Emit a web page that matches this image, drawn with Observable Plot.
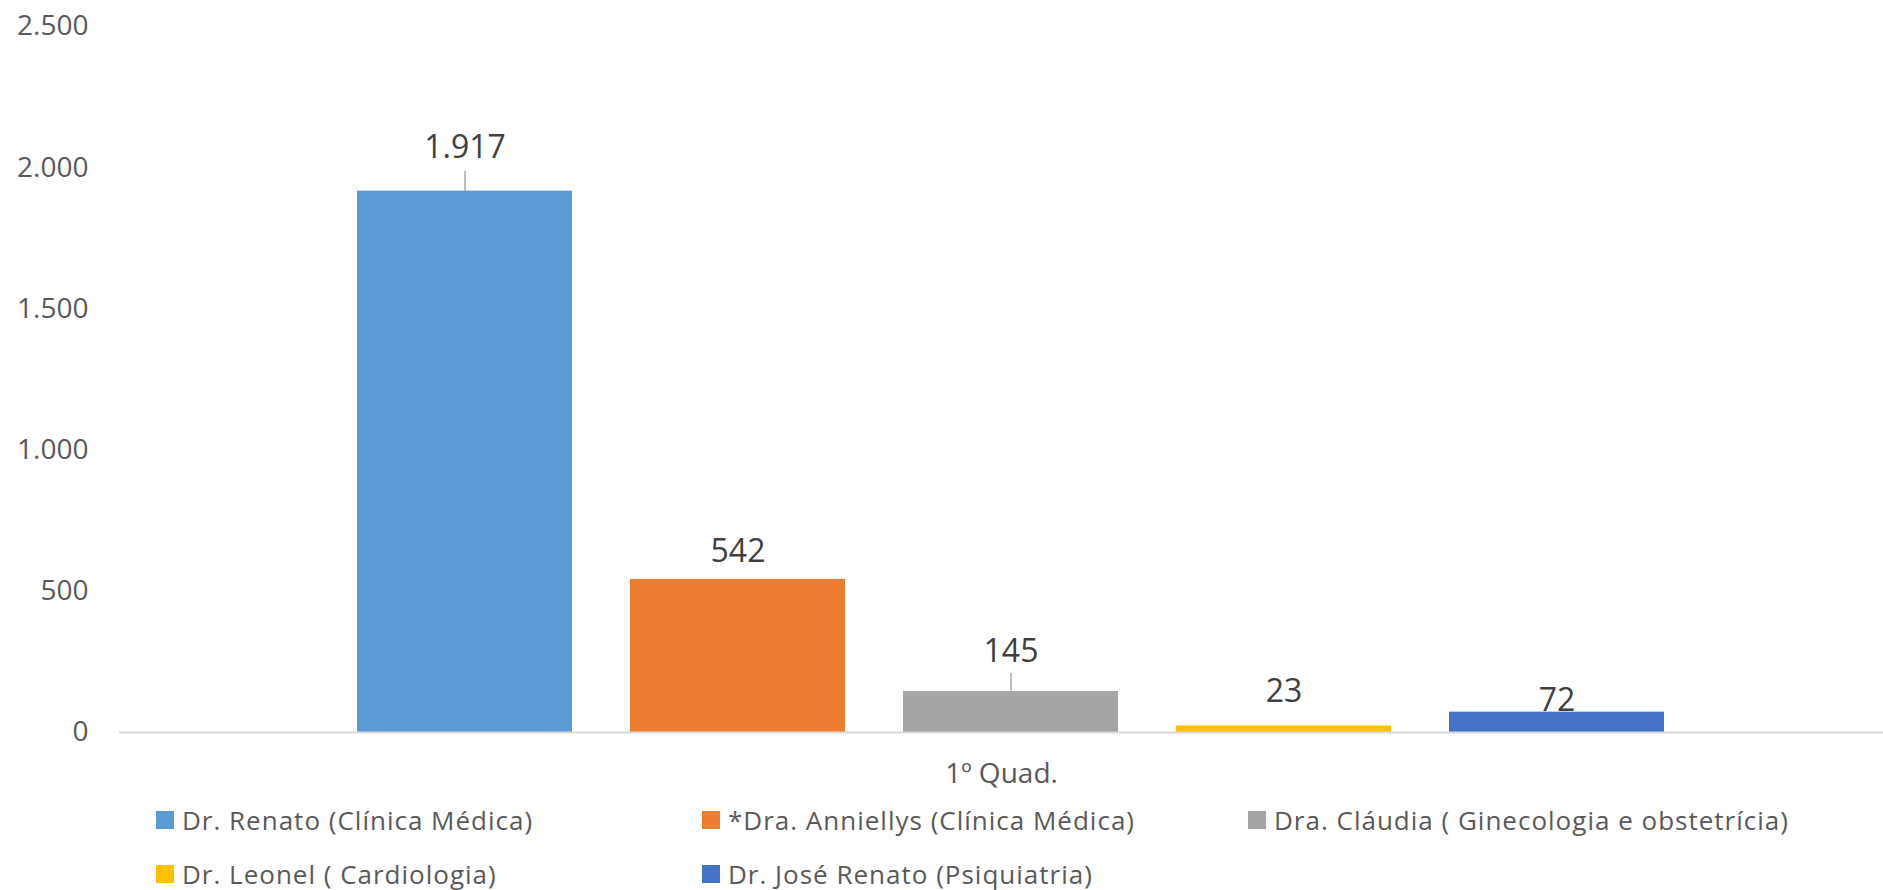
<!DOCTYPE html>
<html>
<head>
<meta charset="utf-8">
<script src="https://cdn.jsdelivr.net/npm/d3@7"></script>
<script src="https://cdn.jsdelivr.net/npm/@observablehq/plot@0.6"></script>
<style>
  html, body { margin: 0; padding: 0; background: #fff; }
  #wrap { position: relative; width: 1883px; height: 890px; font-family: "Open Sans", sans-serif; }
  #legend { position: absolute; left: 156px; top: 793px; display: grid;
            grid-template-columns: 546px 546px 546px; grid-auto-rows: 54px; }
  .item { display: flex; align-items: center; font-size: 26px; letter-spacing: 1px; color: #595959; white-space: nowrap; }
  .sw { width: 18px; height: 18px; margin-right: 8px; flex: none; }
</style>
</head>
<body>
<div id="wrap"><div id="chart"></div><div id="legend"></div></div>
<script>
// ---- data ----
const category = "1º Quad.";
const doctors = [
  "Dr. Renato (Clínica Médica)",
  "*Dra. Anniellys (Clínica Médica)",
  "Dra. Cláudia ( Ginecologia e obstetrícia)",
  "Dr. Leonel ( Cardiologia)",
  "Dr. José Renato (Psiquiatria)"
];
const values = [1917, 542, 145, 23, 72];
const colors = ["#5B9BD5", "#ED7D31", "#A5A5A5", "#FFC000", "#4472C4"];
const yTicks = [0, 500, 1000, 1500, 2000, 2500];
// label placement (pixels above bar top) and leader-line lengths
const labelDy = [-43, -28, -40, -34, -11];
const leaderLen = [20, 0, 18, 0, 0];

const locale = d3.formatLocale({decimal: ",", thousands: ".", grouping: [3], currency: ["", ""]});
const fmt = locale.format(",d");

const rows = doctors.map((d, i) => ({doctor: d, value: values[i], period: category, i}));

const labelMarks = rows.map(r => Plot.text([r], {
  fx: "period", x: "doctor", y: "value", text: d => fmt(d.value),
  dy: labelDy[r.i], lineAnchor: "middle", fontSize: 32, fill: "#404040"
}));
const leaderMarks = rows.filter(r => leaderLen[r.i] > 0).map(r => Plot.ruleX([r], {
  fx: "period", x: "doctor", y1: "value", y2: "value",
  insetTop: -leaderLen[r.i], stroke: "#A6A6A6", strokeWidth: 1.5
}));

const chart = Plot.plot({
  width: 1883,
  height: 793,
  marginTop: 26,
  marginBottom: 61,
  marginLeft: 119,
  marginRight: 0,
  style: {fontFamily: "Open Sans, sans-serif", background: "#fff"},
  fx: {domain: [category], padding: 0, axis: null},
  x: {domain: doctors, paddingInner: 0.213, paddingOuter: 0.834, align: 0.52, axis: null},
  y: {domain: [0, 2500], axis: null},
  color: {domain: doctors, range: colors},
  marks: [
    Plot.axisY({ticks: yTicks, tickSize: 0, tickPadding: 31, tickFormat: fmt,
      fontSize: 28, color: "#595959", label: null}),
    Plot.axisFx({anchor: "bottom", tickSize: 0, tickPadding: 31, fontSize: 28,
      color: "#595959", label: null}),
    Plot.barY(rows, {fx: "period", x: "doctor", y: "value", fill: "doctor"}),
    Plot.ruleY([0], {stroke: "#D9D9D9", strokeWidth: 2}),
    ...leaderMarks,
    ...labelMarks
  ]
});
document.getElementById("chart").appendChild(chart);

// ---- legend ----
const legend = d3.select("#legend");
doctors.forEach((d, i) => {
  const it = legend.append("div").attr("class", "item");
  it.append("span").attr("class", "sw").style("background", colors[i]);
  it.append("span").text(d);
});
</script>
</body>
</html>
